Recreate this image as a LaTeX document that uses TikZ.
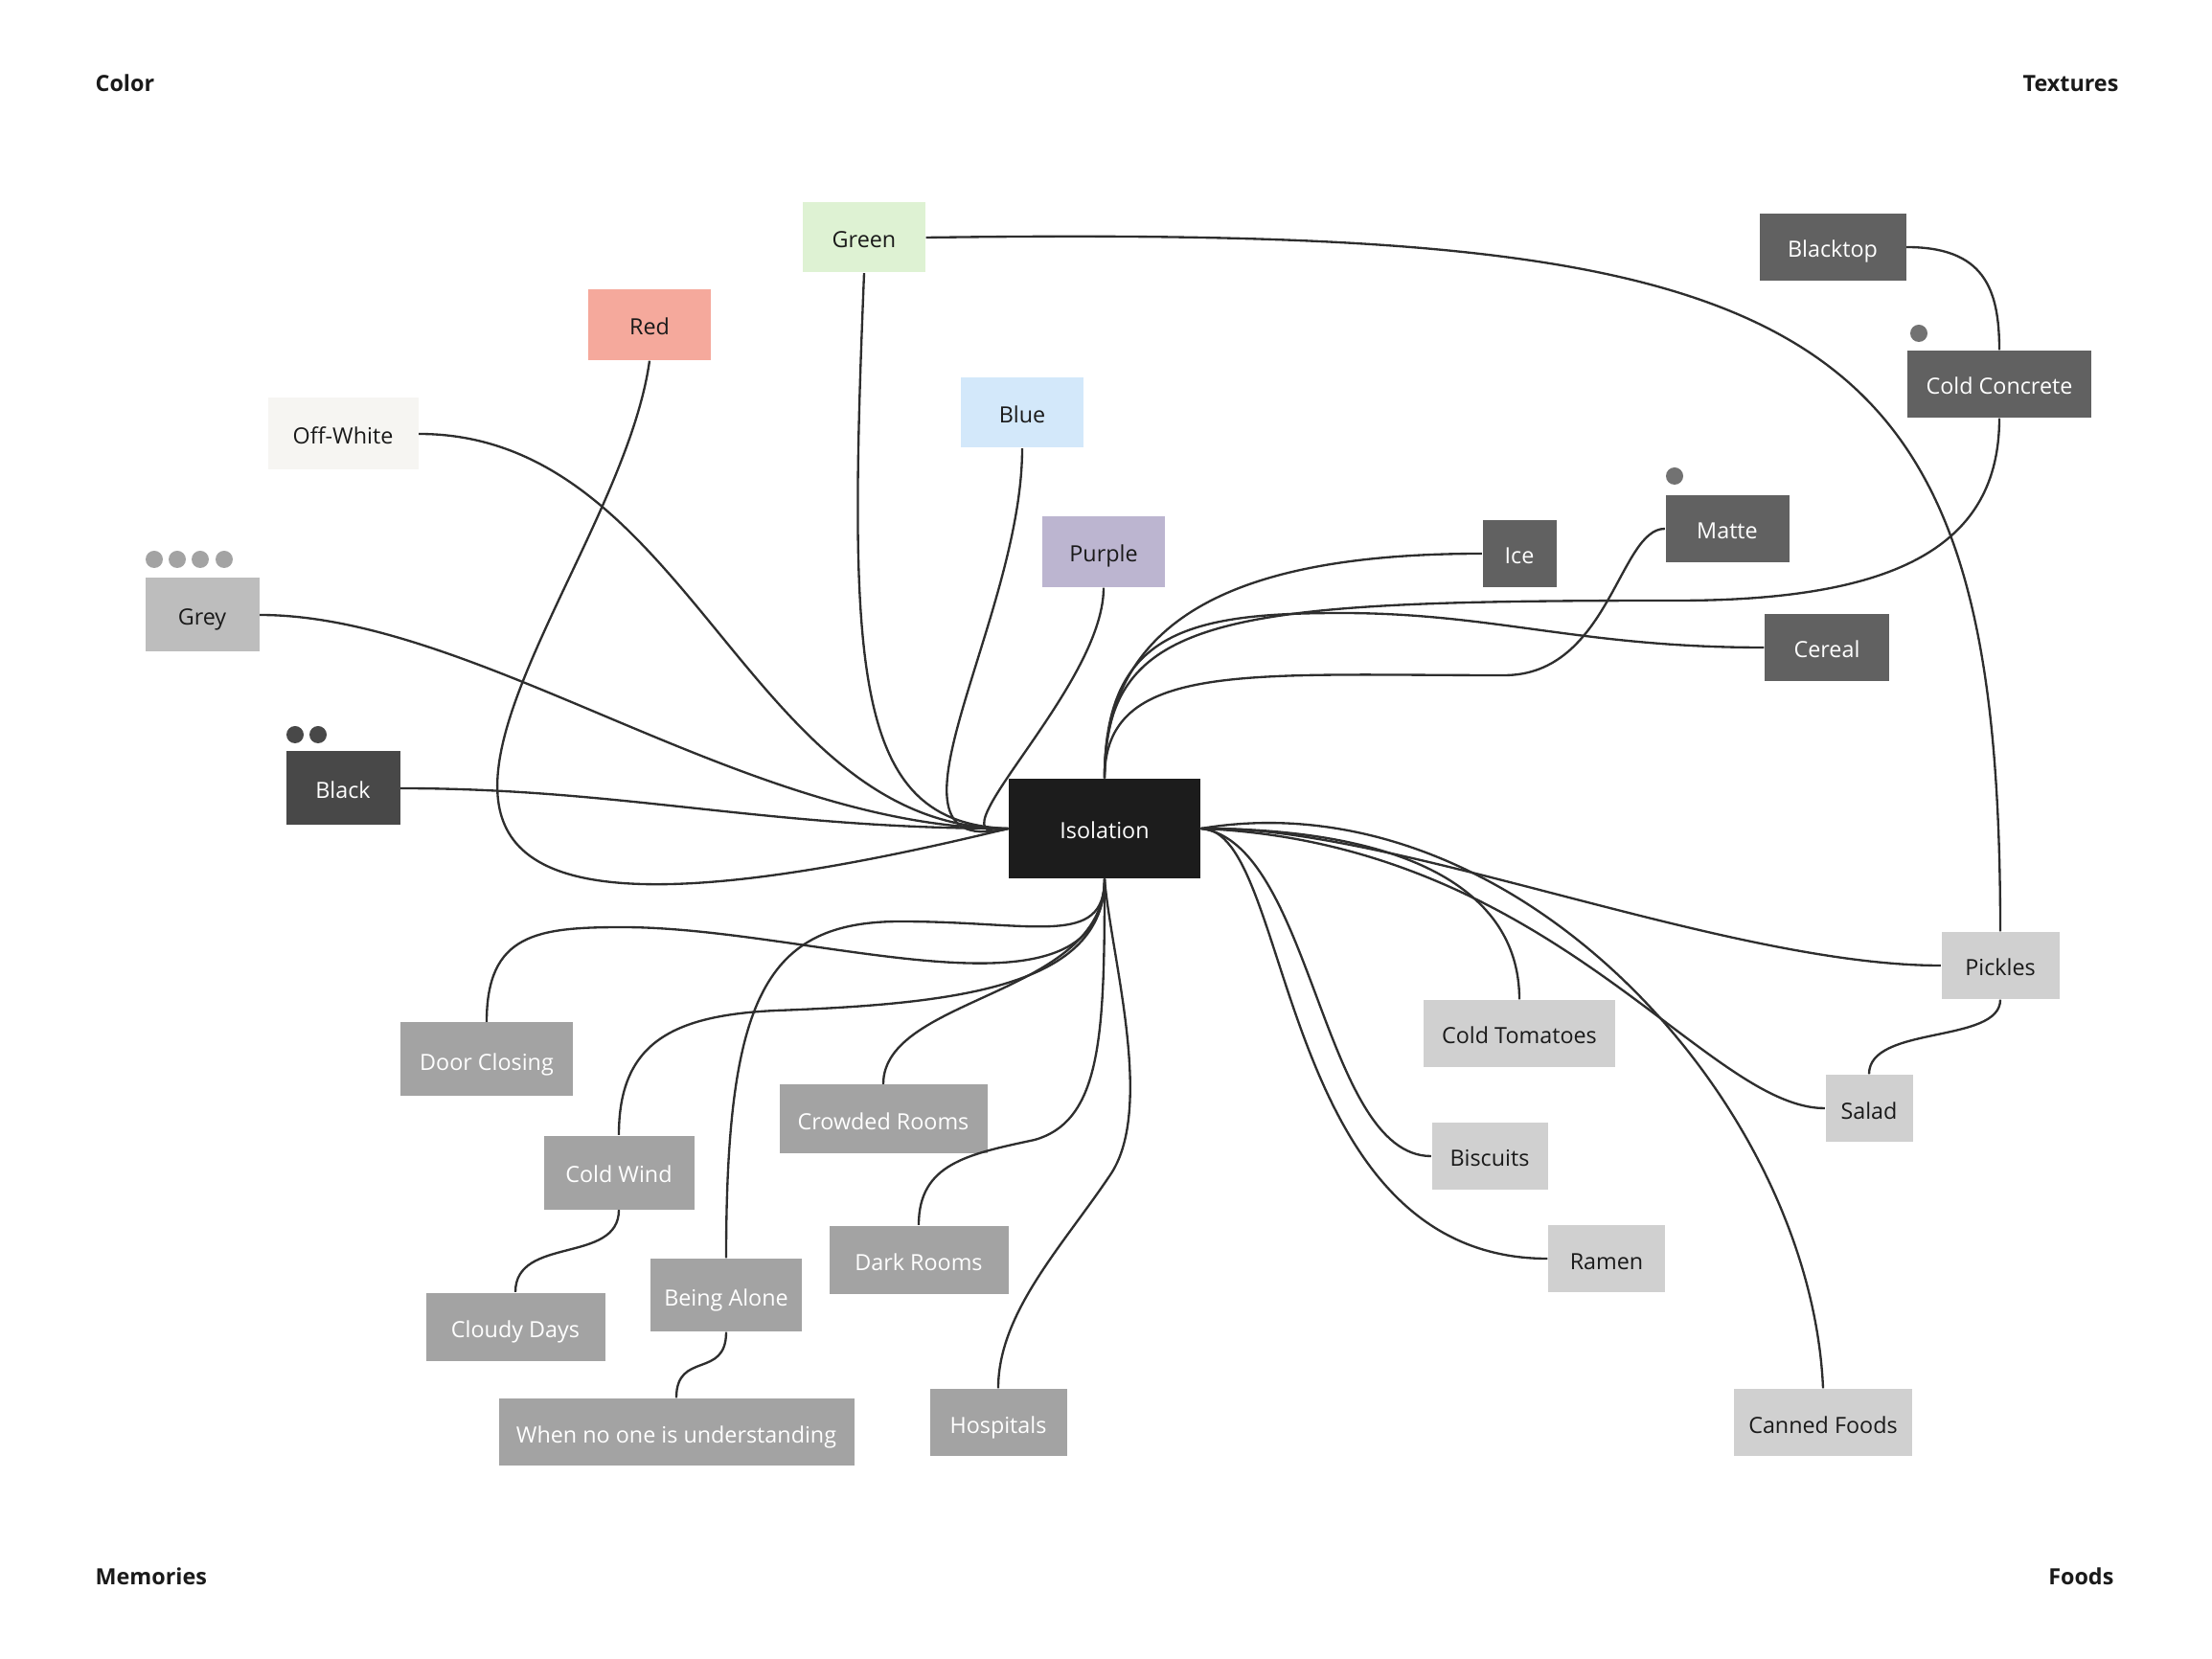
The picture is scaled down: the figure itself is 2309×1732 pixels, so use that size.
\documentclass[tikz,border=0pt]{standalone}
\usepackage{fontspec}
\setmainfont{Open Sans}
\usepackage{tikz}
\definecolor{IsoFill}{HTML}{1C1C1C}
\definecolor{GreenFill}{HTML}{DEF2D3}
\definecolor{RedFill}{HTML}{F5A99C}
\definecolor{OffWhiteFill}{HTML}{F6F5F2}
\definecolor{BlueFill}{HTML}{D3E8FA}
\definecolor{PurpleFill}{HTML}{BCB5D0}
\definecolor{GreyFill}{HTML}{BDBDBD}
\definecolor{BlackFill}{HTML}{484848}
\definecolor{TexFill}{HTML}{616161}
\definecolor{FoodFill}{HTML}{D0D0D0}
\definecolor{MemFill}{HTML}{A3A3A3}
\definecolor{InkDark}{HTML}{1A1A1A}
\definecolor{LinkGray}{HTML}{2E2E2E}
\definecolor{TexDot}{HTML}{727272}

\begin{document}
\begin{tikzpicture}[
    x=0.3pt, y=-0.3pt,
    font=\fontsize{7}{8}\selectfont,
    dims/.style 2 args={minimum width=#1*0.3pt, minimum height=#2*0.3pt},
    anybox/.style={rectangle, inner sep=0pt, text height=6.6pt, text depth=0pt},
    colbox/.style={anybox, text=InkDark},
    texbox/.style={anybox, fill=TexFill, text=white},
    foodbox/.style={anybox, fill=FoodFill, text=InkDark},
    membox/.style={anybox, fill=MemFill, text=white},
    corner/.style={font=\fontsize{7}{8}\selectfont\bfseries, text=InkDark, inner sep=0pt},
    link/.style={draw=LinkGray, line width=0.7pt}
]
\useasboundingbox (0,0) rectangle (2309,1732);

% corner titles
\node[corner, anchor=west] (tcolor) at (99,87) {Color};
\node[corner, anchor=east] (ttex) at (2212,87) {Textures};
\node[corner, anchor=west] (tmem) at (99,1646) {Memories};
\node[corner, anchor=east] (tfood) at (2207,1646) {Foods};

% centre
\node[anybox, fill=IsoFill, text=white, dims={200}{104}] (iso) at (1153,865) {Isolation};

% colours
\node[colbox, fill=GreenFill, dims={128}{73}] (green) at (902,248) {Green};
\node[colbox, fill=RedFill, dims={128}{74}] (red) at (678,339) {Red};
\node[colbox, fill=OffWhiteFill, dims={157}{75}] (offwhite) at (358,453) {Off-White};
\node[colbox, fill=BlueFill, dims={128}{73}] (blue) at (1067,431) {Blue};
\node[colbox, fill=PurpleFill, dims={128}{74}] (purple) at (1152,576) {Purple};
\node[colbox, fill=GreyFill, dims={119}{77}] (grey) at (211,642) {Grey};
\node[colbox, fill=BlackFill, text=white, dims={119}{77}] (black) at (358,823) {Black};
\foreach \dx in {161,185,209,234}
    \fill[MemFill] (\dx,584) circle (9);
\foreach \dx in {308,332}
    \fill[BlackFill] (\dx,767) circle (9);

% textures
\node[texbox, dims={153}{70}] (blacktop) at (1913,258) {Blacktop};
\node[texbox, dims={192}{70}] (concrete) at (2087,401) {Cold Concrete};
\node[texbox, dims={77}{70}] (ice) at (1586,578) {Ice};
\node[texbox, dims={129}{70}] (matte) at (1803,552) {Matte};
\node[texbox, dims={130}{70}] (cereal) at (1907,676) {Cereal};
\fill[TexDot] (2003,348) circle (9);
\fill[TexDot] (1748,497) circle (9);

% foods
\node[foodbox, dims={123}{70}] (pickles) at (2088,1008) {Pickles};
\node[foodbox, dims={200}{70}] (tomatoes) at (1586,1079) {Cold Tomatoes};
\node[foodbox, dims={91}{70}] (salad) at (1951,1157) {Salad};
\node[foodbox, dims={121}{70}] (biscuits) at (1555,1207) {Biscuits};
\node[foodbox, dims={122}{70}] (ramen) at (1677,1314) {Ramen};
\node[foodbox, dims={186}{70}] (canned) at (1903,1485) {Canned Foods};

% memories
\node[membox, dims={180}{77}] (door) at (508,1106) {Door Closing};
\node[membox, dims={157}{77}] (coldwind) at (646,1224) {Cold Wind};
\node[membox, dims={217}{71}] (crowded) at (922,1168) {Crowded Rooms};
\node[membox, dims={187}{71}] (dark) at (959,1315) {Dark Rooms};
\node[membox, dims={187}{71}] (cloudy) at (538,1385) {Cloudy Days};
\node[membox, dims={158}{76}] (alone) at (758,1352) {Being Alone};
\node[membox, dims={371}{70}] (nobody) at (706,1495) {When no one is understanding};
\node[membox, dims={143}{70}] (hospitals) at (1042,1485) {Hospitals};

% colour links
\draw[link] (green.south) .. controls (885,700) and (890,860) .. (iso.west);
\draw[link] (red.south) .. controls (640,650) and (170,1080) .. (iso.west);
\draw[link] (offwhite.east) .. controls (720,453) and (780,865) .. (iso.west);
\draw[link] (grey.east) .. controls (500,642) and (780,865) .. (iso.west);
\draw[link] (black.east) .. controls (650,823) and (800,865) .. (iso.west);
\draw[link] (blue.south) .. controls (1067,650) and (900,900) .. (iso.west);
\draw[link] (purple.south) .. controls (1152,720) and (960,890) .. (iso.west);

% texture links
\draw[link] (ice.west) .. controls (1300,578) and (1153,640) .. (iso.north);
\draw[link] (matte.west) .. controls (1690,552) and (1680,705) .. (1570,705)
    .. controls (1300,705) and (1153,690) .. (iso.north);
\draw[link] (concrete.south) .. controls (2087,570) and (1980,627) .. (1750,627)
    .. controls (1280,627) and (1153,640) .. (iso.north);
\draw[link] (cereal.west) .. controls (1650,676) and (1560,640) .. (1400,640)
    .. controls (1240,640) and (1153,660) .. (iso.north);
\draw[link] (blacktop.east) .. controls (2070,258) and (2087,300) .. (concrete.north);
\draw[link] (green.east) .. controls (1900,235) and (2088,320) .. (pickles.north);

% food links
\draw[link] (pickles.west) .. controls (1800,1008) and (1450,860) .. (iso.east);
\draw[link] (pickles.south) .. controls (2088,1090) and (1951,1070) .. (salad.north);
\draw[link] (tomatoes.north) .. controls (1586,920) and (1450,865) .. (iso.east);
\draw[link] (biscuits.west) .. controls (1380,1207) and (1370,880) .. (iso.east);
\draw[link] (ramen.west) .. controls (1330,1314) and (1350,865) .. (iso.east);
\draw[link] (salad.west) .. controls (1780,1157) and (1620,880) .. (iso.east);
\draw[link] (canned.north) .. controls (1890,1150) and (1580,810) .. (iso.east);

% memory links
\draw[link] (door.north) .. controls (508,975) and (560,968) .. (650,968)
    .. controls (850,968) and (1153,1080) .. (iso.south);
\draw[link] (crowded.north) .. controls (922,1040) and (1153,1040) .. (iso.south);
\draw[link] (coldwind.north) .. controls (646,1090) and (700,1060) .. (810,1055)
    .. controls (1000,1048) and (1153,1030) .. (iso.south);
\draw[link] (alone.north) .. controls (758,1040) and (800,962) .. (940,962)
    .. controls (1080,962) and (1153,990) .. (iso.south);
\draw[link] (dark.north) .. controls (959,1215) and (1010,1205) .. (1080,1190)
    .. controls (1150,1170) and (1153,1080) .. (iso.south);
\draw[link] (hospitals.north) .. controls (1042,1370) and (1110,1300) .. (1160,1225)
    .. controls (1205,1155) and (1160,1000) .. (iso.south);
\draw[link] (coldwind.south) .. controls (646,1320) and (538,1290) .. (cloudy.north);
\draw[link] (alone.south) .. controls (758,1440) and (706,1410) .. (nobody.north);
\end{tikzpicture}
\end{document}
